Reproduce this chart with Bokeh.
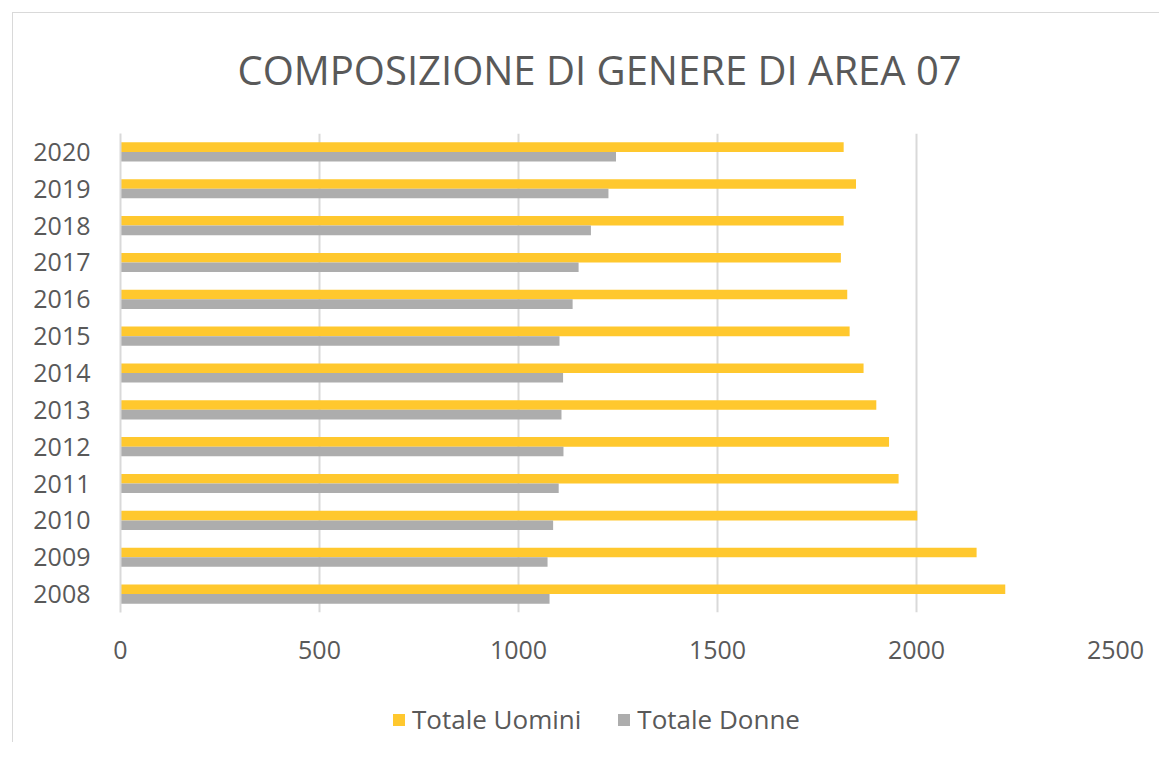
from bokeh.plotting import figure
from bokeh.layouts import column
from bokeh.models import ColumnDataSource, Range1d, FactorRange, FixedTicker, Legend, LegendItem
from bokeh.transform import dodge
from bokeh.embed import file_html
from bokeh.resources import INLINE

years = ["2008", "2009", "2010", "2011", "2012", "2013", "2014",
         "2015", "2016", "2017", "2018", "2019", "2020"]
uomini = [2223, 2151, 2002, 1955, 1931, 1899, 1867, 1832, 1826, 1810, 1817, 1848, 1817]
donne = [1078, 1073, 1087, 1101, 1113, 1108, 1112, 1103, 1136, 1151, 1182, 1226, 1245]
x_ticks = [0, 500, 1000, 1500, 2000, 2500]
title_text = "COMPOSIZIONE DI GENERE DI AREA 07"
series_names = ["Totale Uomini", "Totale Donne"]

FONT = "Open Sans"
TXT = "#595959"
YELLOW = "#FFC82E"
GRAY = "#ADADAD"
GRID = "#D9D9D9"

src = ColumnDataSource(dict(year=years, men=uomini, women=donne))

p = figure(frame_width=995, frame_height=479, output_backend="svg", toolbar_location=None,
           y_range=FactorRange(*years), x_range=Range1d(0, 2500),
           min_border_left=107, min_border_right=44, min_border_top=130, min_border_bottom=70)
p.styles = {"transform": "translateY(-10px)"}
p.outline_line_color = None
p.background_fill_color = "white"
p.border_fill_alpha = 0

p.title.text = title_text
p.title.align = "left"
p.title.offset = 117
p.title.vertical_align = "middle"
p.title.text_font = FONT
p.title.text_font_size = "40px"
p.title.text_font_style = "normal"
p.title.text_color = TXT
p.title.standoff = 72

def add_bars(fig):
    a = fig.hbar(y=dodge("year", 0.13, range=fig.y_range), right="men", left=0, height=0.26,
                 source=src, fill_color=YELLOW, line_color=None)
    b = fig.hbar(y=dodge("year", -0.13, range=fig.y_range), right="women", left=0, height=0.26,
                 source=src, fill_color=GRAY, line_color=None)
    return a, b

add_bars(p)

p.xaxis.ticker = FixedTicker(ticks=x_ticks)
p.xaxis.axis_line_color = None
p.xaxis.major_tick_line_color = None
p.xaxis.minor_tick_line_color = None
p.xaxis.major_label_standoff = 22
p.xaxis.major_label_text_font = FONT
p.xaxis.major_label_text_font_size = "25px"
p.xaxis.major_label_text_color = TXT

p.yaxis.axis_line_color = GRID
p.yaxis.axis_line_width = 2
p.yaxis.major_tick_line_color = None
p.yaxis.minor_tick_line_color = None
p.yaxis.major_label_standoff = 24
p.yaxis.major_label_text_font = FONT
p.yaxis.major_label_text_font_size = "25px"
p.yaxis.major_label_text_color = TXT

p.ygrid.grid_line_color = None
p.xgrid.ticker = FixedTicker(ticks=x_ticks)
p.xgrid.grid_line_color = GRID
p.xgrid.grid_line_width = 2

# legend strip below the chart (its bar renderers are hidden, only the legend shows)
leg = figure(width=1146, height=50, output_backend="svg", toolbar_location=None,
             y_range=FactorRange(*years), x_range=Range1d(0, 2500),
             x_axis_location=None, y_axis_location=None,
             min_border_left=0, min_border_right=0, min_border_top=0, min_border_bottom=0)
leg.outline_line_color = None
leg.grid.visible = False
leg.background_fill_color = "white"
leg.border_fill_alpha = 0
l1, l2 = add_bars(leg)
l1.visible = False
l2.visible = False

legend = Legend(items=[LegendItem(label=series_names[0], renderers=[l1]),
                       LegendItem(label=series_names[1], renderers=[l2])],
                orientation="horizontal", location=(271, 5), click_policy="none",
                label_text_font=FONT, label_text_font_size="26px", label_text_color=TXT,
                glyph_width=15, glyph_height=15, label_standoff=6, spacing=35,
                background_fill_alpha=0, border_line_color=None, margin=0, padding=6)
leg.add_layout(legend, "center")

layout = column(p, leg, spacing=0)
layout.styles = {"border-left": "1px solid #D9D9D9", "border-top": "1px solid #D9D9D9",
                 "margin-left": "12px", "margin-top": "12px"}

open("out.html", "w").write(file_html(layout, INLINE))
